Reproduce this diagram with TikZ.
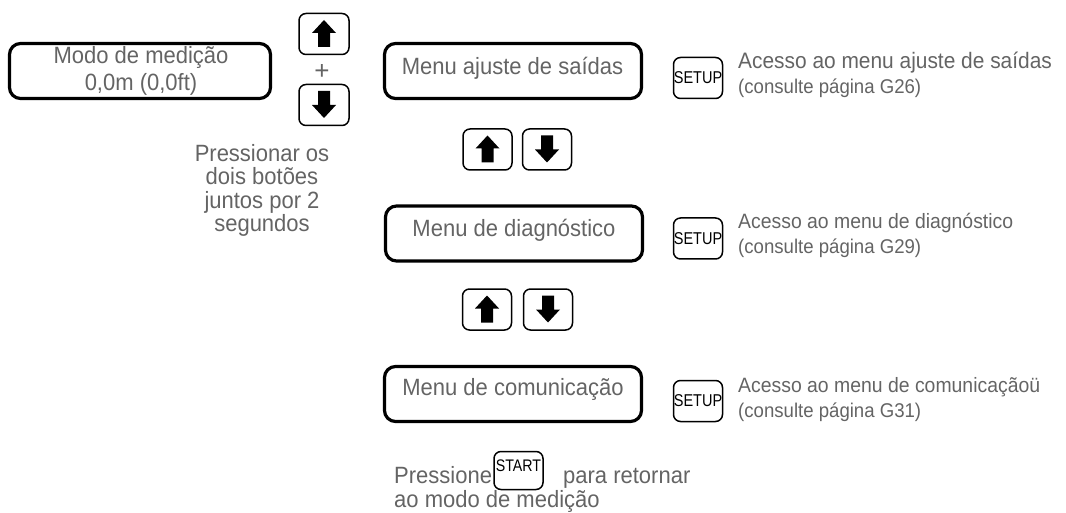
\documentclass[tikz,border=0pt]{standalone}
\usepackage{fontspec}
\setmainfont{Liberation Sans}
\definecolor{txtgray}{RGB}{100,100,100}
\newcommand{\vs}[1]{\scalebox{1}[1.07]{#1}}
\newcommand{\vk}[1]{\scalebox{1}[1.18]{#1}}
\tikzset{
  menubox/.style={draw=black, line width=3.2pt, rounded corners=11pt, minimum width=257pt, minimum height=55pt, inner sep=0pt},
  keybox/.style={draw=black, line width=1.5pt, rounded corners=7pt, minimum width=49pt, minimum height=41pt, inner sep=0pt, font=\fontsize{14.5}{16}\selectfont},
  gtxt/.style={text=txtgray, inner sep=0pt, anchor=base, font=\fontsize{22}{24}\selectfont},
  sidea/.style={text=txtgray, inner sep=0pt, anchor=base west, font=\fontsize{19.4}{22}\selectfont},
  sideb/.style={text=txtgray, inner sep=0pt, anchor=base west, font=\fontsize{18.6}{22}\selectfont},
  keytxt/.style={inner sep=0pt, anchor=base, font=\fontsize{14.2}{16}\selectfont},
  uparrow/.pic={\fill[black] (0,-14) -- (12,-1) -- (6,-1) -- (6,13) -- (-6,13) -- (-6,-1) -- (-12,-1) -- cycle;},
  downarrow/.pic={\fill[black] (0,13) -- (12,0) -- (6,0) -- (6,-14) -- (-6,-14) -- (-6,0) -- (-12,0) -- cycle;},
}
\begin{document}
\begin{tikzpicture}[x=1pt,y=-1pt]
\useasboundingbox (0,0) rectangle (1066,513);
% measuring mode box
\node[menubox, minimum width=261pt] (modo) at (140,71) {};
\node[gtxt] (modo1) at (141,64) {\vs{Modo de medição}};
\node[gtxt] (modo2) at (141,91) {\vs{0,0m (0,0ft)}};
% both buttons
\node[keybox, minimum width=50pt] (k0u) at (324,34) {};
\pic at (k0u.center) {uparrow};
\node[gtxt, font=\fontsize{26}{26}\selectfont] (plus) at (322,79.5) {+};
\node[keybox, minimum width=50pt] (k0d) at (324,105) {};
\pic at (k0d.center) {downarrow};
\node[gtxt] (p1) at (262,161.5) {\vs{Pressionar os}};
\node[gtxt] (p2) at (262,185) {\vs{dois botões}};
\node[gtxt] (p3) at (262,208.5) {\vs{juntos por 2}};
\node[gtxt] (p4) at (262,232) {\vs{segundos}};
% menus
\node[menubox] (m1) at (513,71) {};
\node[gtxt] (m1t) at (512.5,75) {\vs{Menu ajuste de saídas}};
\node[keybox] (k1u) at (487.5,149.5) {};
\pic at (k1u.center) {uparrow};
\node[keybox] (k1d) at (547,149.5) {};
\pic at (k1d.center) {downarrow};
\node[menubox] (m2) at (514,233.5) {};
\node[gtxt] (m2t) at (514,237) {\vs{Menu de diagnóstico}};
\node[keybox] (k2u) at (487,309.5) {};
\pic at (k2u.center) {uparrow};
\node[keybox] (k2d) at (548,309.5) {};
\pic at (k2d.center) {downarrow};
\node[menubox] (m3) at (513,394) {};
\node[gtxt] (m3t) at (513,395) {\vs{Menu de comunicação}};
% setup keys
\node[keybox] (s1) at (698,78) {\vk{SETUP}};
\node[keybox] (s2) at (698,238.5) {\vk{SETUP}};
\node[keybox] (s3) at (698,401) {\vk{SETUP}};
\node[sidea, font=\fontsize{20.9}{22}\selectfont] (a1) at (738,69) {\vs{Acesso ao menu ajuste de saídas}};
\node[sideb] (b1) at (738,94) {\vs{(consulte página G26)}};
\node[sidea] (a2) at (738,229) {\vs{Acesso ao menu de diagnóstico}};
\node[sideb] (b2) at (738,254) {\vs{(consulte página G29)}};
\node[sidea] (a3) at (738,392) {\vs{Acesso ao menu de comunicaçãoü}};
\node[sideb] (b3) at (738,417) {\vs{(consulte página G31)}};
% start
\node[keybox, minimum height=38pt] (st) at (518.5,470.5) {};
\node[keytxt] (stt) at (518.5,471.7) {\vk{START}};
\node[gtxt, anchor=base west] (q1) at (394,483) {\vs{Pressione}};
\node[gtxt, anchor=base west] (q2) at (563,483) {\vs{para retornar}};
\node[gtxt, anchor=base west] (q3) at (394,507) {\vs{ao modo de medição}};
\end{tikzpicture}
\end{document}
